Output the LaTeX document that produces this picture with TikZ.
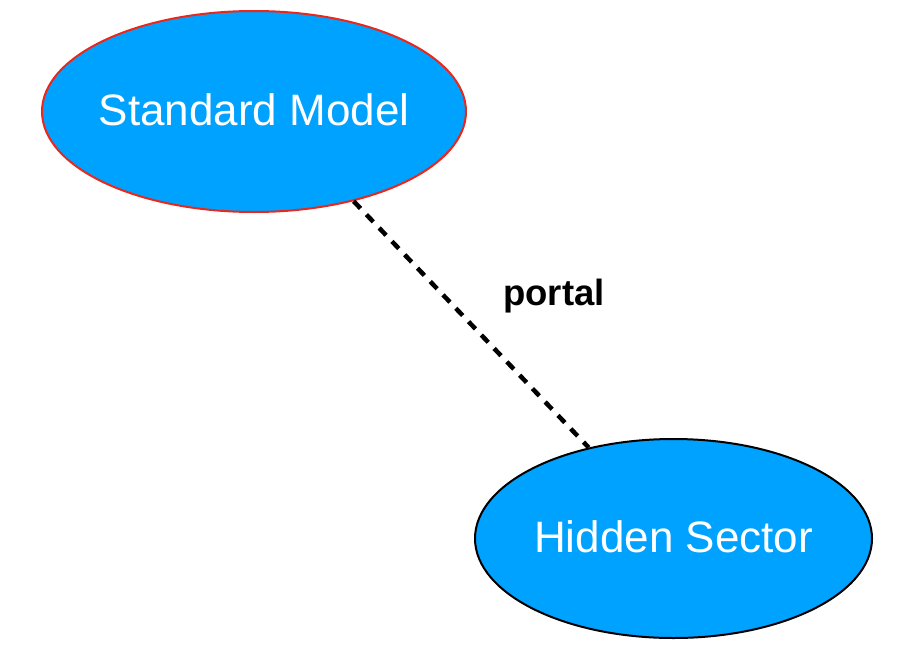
\documentclass[tikz,border=0pt]{standalone}
\usepackage{fontspec}
\setmainfont{Liberation Sans}
\usetikzlibrary{shapes.geometric}
\definecolor{sectorblue}{RGB}{0,162,255}
\definecolor{smred}{RGB}{232,40,28}
\tikzset{
  sector/.style={ellipse, fill=sectorblue, line width=2pt, inner sep=0pt},
  sectortext/.style={text=white, font=\fontsize{44}{50}\selectfont, inner sep=0pt,
    text height=31.5pt, text depth=3.5pt},
  portalline/.style={line width=4.5pt, dash pattern=on 10pt off 8.5pt},
  portallabel/.style={font=\bfseries\fontsize{36.5}{42}\selectfont, anchor=base}
}
\begin{document}
\begin{tikzpicture}[x=1pt,y=-1pt]
  \useasboundingbox (0,0) rectangle (899,645);
  % the two sectors
  \node[sector, draw=smred, minimum width=424pt, minimum height=201pt] (sm) at (254,111.5) {};
  \node[sectortext] (smtext) at (sm.center) {Standard Model};
  \node[sector, draw=black, minimum width=397pt, minimum height=199pt] (hs) at (673.5,538.5) {};
  \node[sectortext] (hstext) at (hs.center) {Hidden Sector};
  % the portal between them
  \draw[portalline] (sm.-42.4) -- (hs.133.1);
  \node[portallabel] (portal) at (554,305) {portal};
\end{tikzpicture}
\end{document}
